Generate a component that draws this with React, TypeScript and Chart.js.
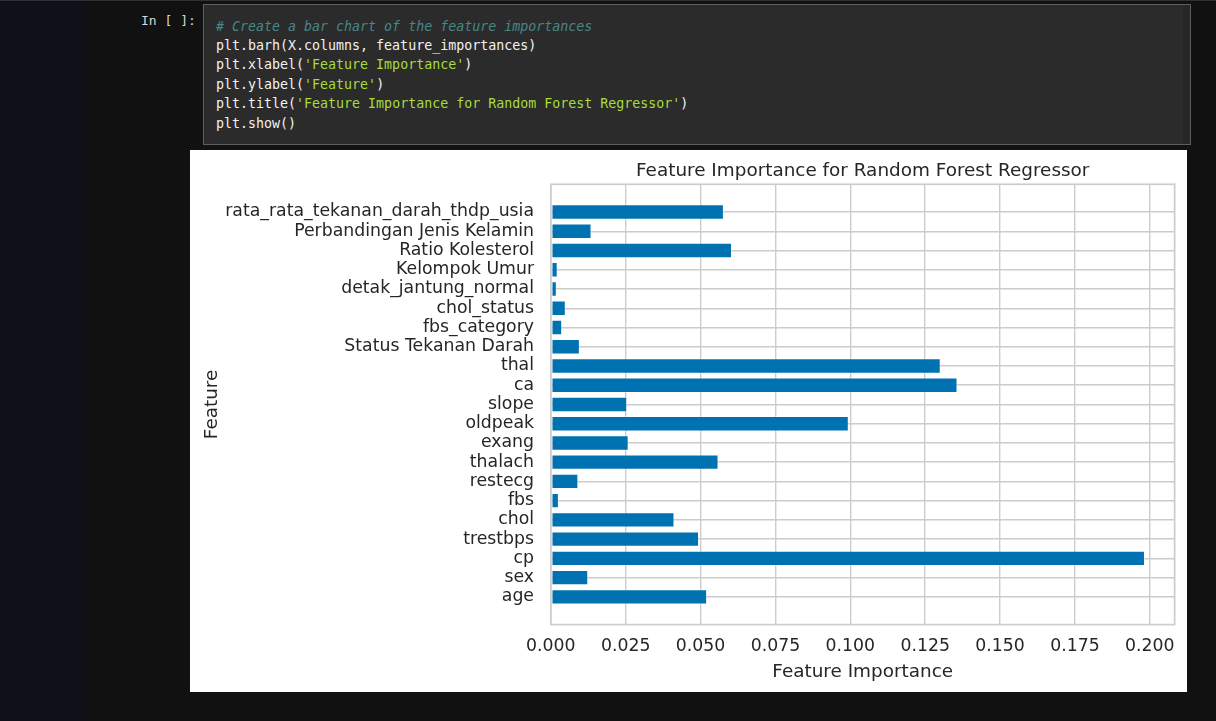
import React, { useEffect, useRef } from "react";
import { Chart, registerables } from "chart.js";

Chart.register(...registerables);

// ---- data ----
const features = [
  "age",
  "sex",
  "cp",
  "trestbps",
  "chol",
  "fbs",
  "restecg",
  "thalach",
  "exang",
  "oldpeak",
  "slope",
  "ca",
  "thal",
  "Status Tekanan Darah",
  "fbs_category",
  "chol_status",
  "detak_jantung_normal",
  "Kelompok Umur",
  "Ratio Kolesterol",
  "Perbandingan Jenis Kelamin",
  "rata_rata_tekanan_darah_thdp_usia",
];
const importances = [
  0.0522, 0.0125, 0.1984, 0.0495, 0.0413, 0.0027, 0.0092, 0.056, 0.026, 0.0995,
  0.0255, 0.1358, 0.1302, 0.0097, 0.0038, 0.005, 0.002, 0.0023, 0.0605, 0.0136,
  0.0578,
];
const xTickValues = [0, 0.025, 0.05, 0.075, 0.1, 0.125, 0.15, 0.175, 0.2];
const chartTitle = "Feature Importance for Random Forest Regressor";
const xLabel = "Feature Importance";
const yLabel = "Feature";

type Tok = { t: string; c?: "cm" | "str" };
const codeLines: Tok[][] = [
  [{ t: "# Create a bar chart of the feature importances", c: "cm" }],
  [{ t: "plt.barh(X.columns, feature_importances)" }],
  [{ t: "plt.xlabel(" }, { t: "'Feature Importance'", c: "str" }, { t: ")" }],
  [{ t: "plt.ylabel(" }, { t: "'Feature'", c: "str" }, { t: ")" }],
  [
    { t: "plt.title(" },
    { t: "'Feature Importance for Random Forest Regressor'", c: "str" },
    { t: ")" },
  ],
  [{ t: "plt.show()" }],
];

const TEXT = "#262626";
const GRID = "#cccccc";
const FONT = "'DejaVu Sans', sans-serif";

function BarChart() {
  const ref = useRef<HTMLCanvasElement | null>(null);
  useEffect(() => {
    if (!ref.current) return;
    const frame = {
      id: "frame",
      afterDatasetsDraw(chart: any) {
        const { ctx, chartArea } = chart;
        ctx.save();
        ctx.strokeStyle = GRID;
        ctx.lineWidth = 1.7;
        ctx.strokeRect(
          chartArea.left,
          chartArea.top,
          chartArea.right - chartArea.left,
          chartArea.bottom - chartArea.top
        );
        ctx.restore();
      },
    };
    const chart = new Chart(ref.current, {
      type: "bar",
      data: {
        datasets: [
          {
            data: features.map((_, i) => ({ x: importances[i], y: i })),
            backgroundColor: "#0072b2",
            borderColor: "rgba(255,255,255,0.3)",
            borderWidth: 1,
            borderSkipped: false,
            barPercentage: 0.8,
            categoryPercentage: 1,
          } as any,
        ],
      },
      options: {
        indexAxis: "y",
        animation: false,
        responsive: false,
        maintainAspectRatio: false,
        layout: { padding: { left: 0, right: 10.3, top: 0, bottom: 0 } },
        plugins: {
          legend: { display: false },
          tooltip: { enabled: false },
          title: {
            display: true,
            text: chartTitle,
            fullSize: false,
            color: TEXT,
            font: { family: FONT, size: 18.4, weight: "normal", lineHeight: 1.2 },
            padding: { top: 10.5, bottom: 1.7 },
          },
        },
        scales: {
          x: {
            type: "linear",
            min: 0,
            max: 0.2083,
            offset: false,
            afterBuildTicks: (s: any) => {
              s.ticks = xTickValues.map((v) => ({ value: v }));
            },
            afterFit: (s: any) => {
              s.height = 67.4;
            },
            ticks: {
              callback: (v: any) => Number(v).toFixed(3),
              color: TEXT,
              font: { family: FONT, size: 17.3 },
              padding: 12,
              maxRotation: 0,
              autoSkip: false,
            },
            grid: { color: GRID, lineWidth: 1.4, drawTicks: false, offset: false },
            border: { display: false },
            title: {
              display: true,
              text: xLabel,
              color: TEXT,
              font: { family: FONT, size: 18.4, lineHeight: 1.2 },
              padding: { top: 0, bottom: 9 },
            },
          },
          y: {
            type: "linear",
            min: -1.44,
            max: 21.44,
            offset: false,
            afterBuildTicks: (s: any) => {
              s.ticks = features.map((_, i) => ({ value: i }));
            },
            afterFit: (s: any) => {
              s.width = 360.8;
            },
            ticks: {
              callback: (v: any) => features[Math.round(Number(v))],
              color: TEXT,
              font: { family: FONT, size: 17.3 },
              padding: 16.8,
              autoSkip: false,
            },
            grid: { color: GRID, lineWidth: 1.4, drawTicks: false, offset: false },
            border: { display: false },
            title: {
              display: true,
              text: yLabel,
              color: TEXT,
              font: { family: FONT, size: 18.4, lineHeight: 1.2 },
              padding: { top: 10.9, bottom: 0 },
            },
          },
        },
      } as any,
      plugins: [frame],
    });
    return () => chart.destroy();
  }, []);
  return (
    <canvas
      ref={ref}
      width={997}
      height={542}
      style={{ position: "absolute", left: 190, top: 150, width: 997, height: 542, display: "block" }}
    />
  );
}

export default function App() {
  const mono = "'DejaVu Sans Mono', 'Liberation Mono', monospace";
  return (
    <div
      style={{
        position: "fixed",
        left: 0,
        top: 0,
        width: 1216,
        height: 721,
        background: "#111111",
        overflow: "hidden",
      }}
    >
      <div style={{ position: "absolute", left: 0, top: 0, width: 84, height: 721, background: "#0e1117" }} />
      <div style={{ position: "absolute", left: 0, top: 0, width: 1216, height: 1, background: "#2e3037" }} />
      <div
        style={{
          position: "absolute",
          left: 141,
          top: 11,
          fontFamily: mono,
          fontSize: 13,
          lineHeight: "19px",
          color: "#d6d6d6",
          whiteSpace: "pre",
        }}
      >
        In [ ]:
      </div>
      <div
        style={{
          position: "absolute",
          left: 203,
          top: 4,
          width: 986,
          height: 139,
          background: "#2b2b2b",
          border: "1px solid #5e5e5e",
        }}
      >
        <div style={{ position: "absolute", right: 0, top: 0, width: 7, height: "100%", background: "#262626" }} />
        {codeLines.map((line, i) => (
          <div
            key={i}
            style={{
              position: "absolute",
              left: 12,
              top: 11.5 + i * 19.4,
              fontFamily: mono,
              fontSize: 13.3,
              lineHeight: "19px",
              whiteSpace: "pre",
              color: "#f2f2f2",
            }}
          >
            {line.map((tk, j) => (
              <span
                key={j}
                style={{
                  color: tk.c === "cm" ? "#468787" : tk.c === "str" ? "#a6dc3c" : "#f2f2f2",
                  fontStyle: tk.c === "cm" ? "italic" : "normal",
                }}
              >
                {tk.t}
              </span>
            ))}
          </div>
        ))}
      </div>
      <div style={{ position: "absolute", left: 190, top: 150, width: 997, height: 542, background: "#ffffff" }} />
      <BarChart />
    </div>
  );
}
